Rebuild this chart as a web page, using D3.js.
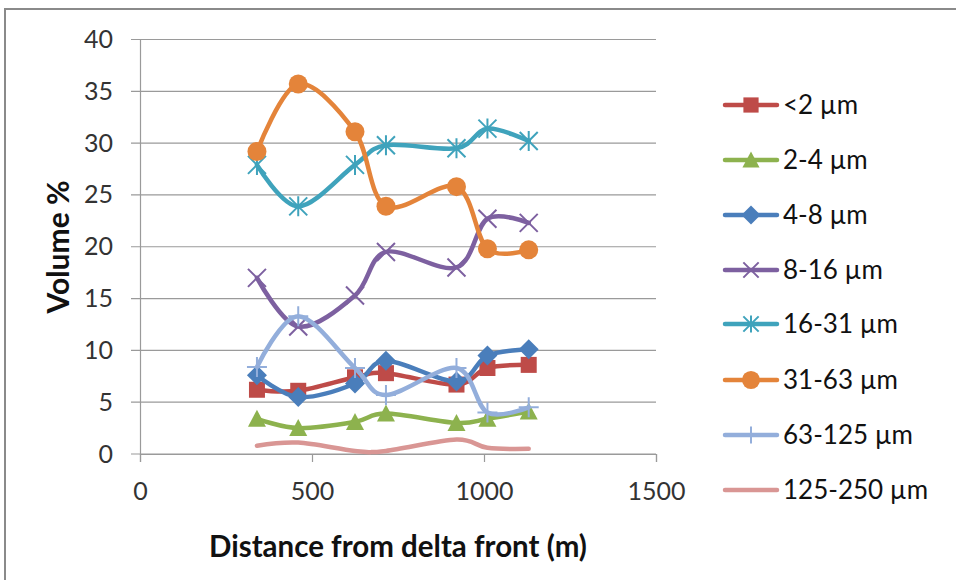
<!DOCTYPE html>
<html><head><meta charset="utf-8">
<script src="https://cdn.jsdelivr.net/npm/d3@7"></script>
<style>body{margin:0;background:#fff}svg{display:block}</style>
</head><body>
<svg id="c" width="956" height="580"></svg>
<script>
const distances = [340, 460, 625, 715, 920, 1010, 1130];
const seriesNames = ["<2 µm","2-4 µm","4-8 µm","8-16 µm","16-31 µm","31-63 µm","63-125 µm","125-250 µm"];
const clay = [6.2, 6.1, 7.4, 7.8, 6.7, 8.3, 8.6];
const s2_4 = [3.4, 2.5, 3.1, 3.9, 3.0, 3.4, 4.1];
const s4_8 = [7.6, 5.5, 6.8, 9.0, 7.0, 9.5, 10.1];
const s8_16 = [17.0, 12.3, 15.3, 19.5, 18.0, 22.7, 22.3];
const s16_31 = [27.9, 23.9, 27.9, 29.8, 29.5, 31.4, 30.2];
const s31_63 = [29.2, 35.7, 31.1, 23.9, 25.8, 19.8, 19.7];
const s63_125 = [8.4, 13.3, 8.3, 5.7, 8.3, 4.0, 4.5];
const s125_250 = [0.8, 1.1, 0.3, 0.3, 1.4, 0.6, 0.5];
const xTicks = [0, 500, 1000, 1500];
const yTicks = [0, 5, 10, 15, 20, 25, 30, 35, 40];

const colors = ["#BE4B48","#8DB24E","#4A7EBB","#7D60A0","#3FA3BC","#E4843A","#93AEDB","#D99694"];
const markers = ["square","triangle","diamond","x","star","circle","plus","none"];
const values = [clay, s2_4, s4_8, s8_16, s16_31, s31_63, s63_125, s125_250];

const svg = d3.select("#c");
const font = "Lato, 'Open Sans', sans-serif";
svg.append("rect").attr("x",5).attr("y",9).attr("width",960).attr("height",580)
  .attr("fill","none").attr("stroke","#8a8a8a").attr("stroke-width",2);

const x = d3.scaleLinear().domain([0,1500]).range([140,656]);
const y = d3.scaleLinear().domain([0,40]).range([454,39.5]);

svg.append("g").selectAll("line").data(yTicks).join("line")
  .attr("x1",131).attr("x2",656).attr("y1",d=>y(d)).attr("y2",d=>y(d))
  .attr("stroke","#9a9a9a").attr("stroke-width",1.2);

const ya = svg.append("g").attr("transform","translate(140,0)")
  .call(d3.axisLeft(y).tickValues(yTicks).tickSize(0).tickPadding(27).tickFormat(d3.format("d")));
ya.select(".domain").attr("stroke","#9a9a9a").attr("stroke-width",1.2);
ya.selectAll("text").attr("font-family",font).attr("font-size",25).attr("fill","#333");

const xa = svg.append("g").attr("transform","translate(0,454)")
  .call(d3.axisBottom(x).tickValues(xTicks).tickSize(8).tickPadding(14).tickFormat(d3.format("d")));
xa.select(".domain").attr("stroke","#9a9a9a").attr("stroke-width",1.2);
xa.selectAll("line").attr("stroke","#9a9a9a").attr("stroke-width",1.2);
xa.selectAll("text").attr("font-family",font).attr("font-size",25).attr("fill","#333").attr("dy","0.95em");

svg.append("text").attr("x",398).attr("y",557).attr("text-anchor","middle")
  .attr("font-family",font).attr("font-weight","bold").attr("font-size",29.5).attr("fill","#111")
  .text("Distance from delta front (m)");
svg.append("text").attr("transform","translate(69,247) rotate(-90)").attr("text-anchor","middle")
  .attr("font-family",font).attr("font-weight","bold").attr("font-size",30).attr("fill","#111")
  .text("Volume %");

function drawMarker(g, type, color, cx, cy, s) {
  const k = s || 1;
  if (type === "square") g.append("rect").attr("x",cx-8*k).attr("y",cy-8*k).attr("width",16*k).attr("height",16*k).attr("fill",color);
  else if (type === "triangle") g.append("path").attr("d",`M${cx},${cy-9*k}L${cx+9*k},${cy+8*k}L${cx-9*k},${cy+8*k}Z`).attr("fill",color);
  else if (type === "diamond") g.append("path").attr("d",`M${cx},${cy-10*k}L${cx+10*k},${cy}L${cx},${cy+10*k}L${cx-10*k},${cy}Z`).attr("fill",color);
  else if (type === "circle") g.append("circle").attr("cx",cx).attr("cy",cy).attr("r",9.5*k).attr("fill",color);
  else if (type === "x") g.append("path").attr("d",`M${cx-9*k},${cy-9*k}L${cx+9*k},${cy+9*k}M${cx-9*k},${cy+9*k}L${cx+9*k},${cy-9*k}`).attr("stroke",color).attr("stroke-width",2);
  else if (type === "star") g.append("path").attr("d",`M${cx-9*k},${cy-9*k}L${cx+9*k},${cy+9*k}M${cx-9*k},${cy+9*k}L${cx+9*k},${cy-9*k}M${cx},${cy-10*k}L${cx},${cy+10*k}`).attr("stroke",color).attr("stroke-width",2);
  else if (type === "plus") g.append("path").attr("d",`M${cx},${cy-10*k}L${cx},${cy+10*k}M${cx-10*k},${cy}L${cx+10*k},${cy}`).attr("stroke",color).attr("stroke-width",2);
}

const line = d3.line().x(d=>x(d[0])).y(d=>y(d[1])).curve(d3.curveCatmullRom.alpha(0));
values.forEach((vals,i)=>{
  const g = svg.append("g");
  const pts = distances.map((d,j)=>[d, vals[j]]);
  g.append("path").attr("d",line(pts)).attr("fill","none").attr("stroke",colors[i])
    .attr("stroke-width",4.5).attr("stroke-linecap","round").attr("stroke-linejoin","round");
  pts.forEach(p=>drawMarker(g, markers[i], colors[i], x(p[0]), y(p[1])));
});

const legY = [105,160,215,270,324,380,435,490];
seriesNames.forEach((n,i)=>{
  const g = svg.append("g");
  g.append("line").attr("x1",725).attr("x2",777).attr("y1",legY[i]).attr("y2",legY[i])
    .attr("stroke",colors[i]).attr("stroke-width",4.5).attr("stroke-linecap","round");
  drawMarker(g, markers[i], colors[i], 751, legY[i], markers[i]==="x"||markers[i]==="star"||markers[i]==="plus"?0.85:0.95);
  g.append("text").attr("x",783).attr("y",legY[i]+9).attr("font-family",font).attr("font-size",26)
    .attr("fill","#111").text(n);
});
</script>
</body></html>
